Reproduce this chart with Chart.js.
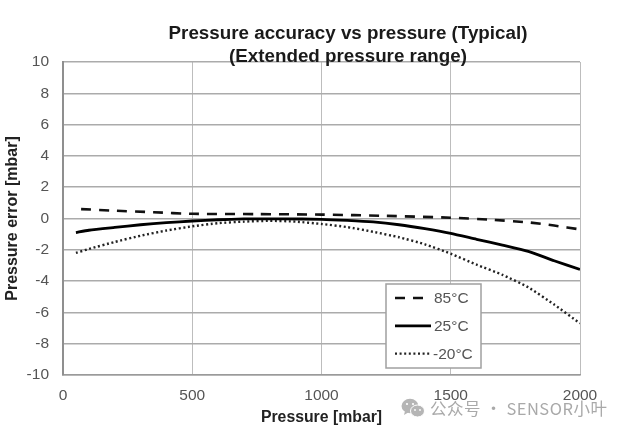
<!DOCTYPE html>
<html>
<head>
<meta charset="utf-8">
<style>
  html, body { margin: 0; background: #fff; }
  #wrap { position: relative; width: 629px; height: 433px; overflow: hidden; }
  #wrap canvas { filter: blur(0.5px); }
  .title { position: absolute; left: 148px; width: 400px; top: 21px; text-align: center; color: #1a1a1a;
           font: bold 18.8px/23px "Liberation Sans", sans-serif; filter: blur(0.4px); }
  .mark { position: absolute; left: 401px; top: 396px; display: flex; align-items: center; gap: 5px;
          color: #a9a9a9; font: 16.5px "Noto Sans CJK SC", "Noto Sans", sans-serif; letter-spacing: 0.5px; white-space: nowrap; }
</style>
</head>
<body>
<div id="wrap">
  <canvas id="errorChart" width="629" height="433"></canvas>
  <div class="title">Pressure accuracy vs pressure (Typical)<br>(Extended pressure range)</div>
  <div class="mark">
    <svg width="24" height="21" viewBox="0 0 24 21">
      <ellipse cx="9" cy="8" rx="8.5" ry="7.2" fill="#b5b5b5"/>
      <path d="M4 13 L3 17 L8 14 Z" fill="#b5b5b5"/>
      <ellipse cx="16.5" cy="13" rx="7" ry="6" fill="#b5b5b5" stroke="#fff"/>
      <circle cx="6" cy="6" r="1.1" fill="#fff"/><circle cx="12" cy="6" r="1.1" fill="#fff"/>
      <circle cx="14" cy="12" r="0.9" fill="#fff"/><circle cx="19" cy="12" r="0.9" fill="#fff"/>
    </svg>
    <span>公众号 · SENSOR小叶</span>
  </div>
</div>
<script src="https://cdn.jsdelivr.net/npm/chart.js@4/dist/chart.umd.min.js"></script>
<script>
// Values
const hotPressure = [70, 200, 350, 500, 750, 1000, 1250, 1500, 1650, 1800, 1900, 2000];
const hotError = [0.6, 0.5, 0.4, 0.3, 0.28, 0.25, 0.17, 0.05, -0.07, -0.25, -0.45, -0.7];

const roomPressure = [50, 100, 200, 300, 400, 500, 600, 700, 850, 1000, 1100, 1200, 1300, 1400, 1500, 1600, 1700, 1800, 1900, 2000];
const roomError = [-0.9, -0.75, -0.57, -0.4, -0.27, -0.16, -0.08, -0.03, -0.02, -0.05, -0.12, -0.22, -0.4, -0.65, -0.95, -1.33, -1.7, -2.1, -2.7, -3.25];

const coldPressure = [50, 100, 200, 300, 400, 500, 600, 700, 800, 900, 1000, 1100, 1200, 1300, 1400, 1500, 1600, 1700, 1800, 1900, 2000];
const coldError = [-2.2, -1.95, -1.5, -1.1, -0.77, -0.5, -0.3, -0.2, -0.15, -0.2, -0.35, -0.55, -0.85, -1.2, -1.65, -2.25, -2.95, -3.6, -4.4, -5.5, -6.7];

const seriesNames = ['85°C', '25°C', '-20°C'];

function toPoints(xs, ys) {
    return xs.map((x, i) => ({ x: x, y: ys[i] }));
}

// Legend box sits inside the plot, so it is drawn by hand from the datasets
const boxLegend = {
    id: 'boxLegend',
    afterDraw(chart) {
        const c = chart.ctx;
        c.save();
        c.fillStyle = '#fff';
        c.strokeStyle = '#a0a0a0';
        c.lineWidth = 1.5;
        c.fillRect(386, 284, 95, 84);
        c.strokeRect(386, 284, 95, 84);
        c.font = '15.5px "Liberation Sans"';
        c.textBaseline = 'middle';
        chart.data.datasets.forEach((ds, i) => {
            const y = 298 + i * 27.8;
            c.beginPath();
            c.setLineDash(ds.borderDash || []);
            c.strokeStyle = ds.borderColor;
            c.lineWidth = ds.borderWidth;
            c.moveTo(395, y);
            c.lineTo(431, y);
            c.stroke();
            c.setLineDash([]);
            c.fillStyle = '#555';
            c.fillText(ds.label, i === 2 ? 433 : 434, y + 1);
        });
        c.restore();
    }
};

new Chart(document.getElementById('errorChart'), {
    type: 'line',
    data: {
        datasets: [
            { label: seriesNames[0], data: toPoints(hotPressure, hotError), borderColor: '#111', borderWidth: 2.6, borderDash: [10, 8] },
            { label: seriesNames[1], data: toPoints(roomPressure, roomError), borderColor: '#000', borderWidth: 2.8 },
            { label: seriesNames[2], data: toPoints(coldPressure, coldError), borderColor: '#222', borderWidth: 2.4, borderDash: [2, 2.6] }
        ]
    },
    options: {
        responsive: false,
        animation: false,
        layout: { padding: { top: 62, right: 49, left: 3, bottom: 6 } },
        elements: { point: { radius: 0 }, line: { tension: 0.2 } },
        plugins: {
            legend: { display: false },
            tooltip: { enabled: false },
            title: { display: false }
        },
        scales: {
            x: {
                type: 'linear',
                min: 0,
                max: 2000,
                afterFit: scale => { scale.height = 52; },
                ticks: { stepSize: 500, color: '#555', font: { family: '"Liberation Sans"', size: 15.5 }, maxRotation: 0, padding: 11, callback: v => String(v) },
                grid: { color: '#bdbdbd', lineWidth: 1, drawTicks: false },
                border: { color: '#9a9a9a', width: 1.5 },
                title: { display: true, text: 'Pressure [mbar]', color: '#222', font: { family: '"Liberation Sans"', size: 15.8, weight: 'bold' }, padding: { top: 2, bottom: 0 } }
            },
            y: {
                min: -10,
                max: 10,
                afterFit: scale => { scale.width = 60; },
                ticks: { stepSize: 2, color: '#555', font: { family: '"Liberation Sans"', size: 15.5 }, padding: 14 },
                grid: { color: '#ababab', lineWidth: 1.5, drawTicks: false },
                border: { color: '#8f8f8f', width: 2 },
                title: { display: true, text: 'Pressure error [mbar]', color: '#222', font: { family: '"Liberation Sans"', size: 16, weight: 'bold' }, padding: { top: 0, bottom: 1 } }
            }
        }
    },
    plugins: [boxLegend]
});
</script>
</body>
</html>
